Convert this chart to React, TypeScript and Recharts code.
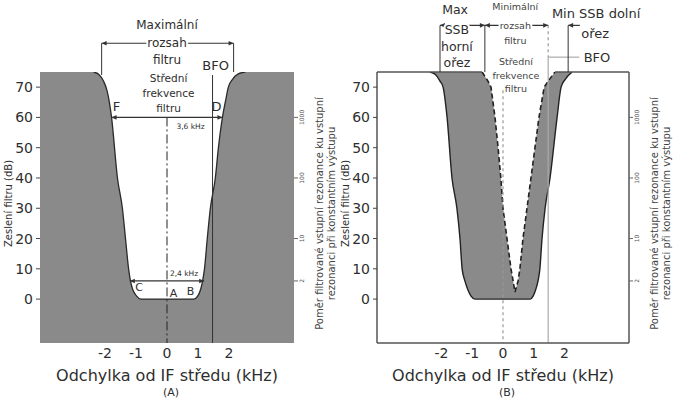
import React from 'react';
import {
  ComposedChart,
  Area,
  XAxis,
  YAxis,
  CartesianGrid,
  ReferenceLine,
  ReferenceDot,
} from 'recharts';

const FONT = '"DejaVu Sans", Verdana, sans-serif';
const INK = '#2e2e2e';
const GRAY = '#8a8a8a';

const X_DOMAIN: [number, number] = [-4.1, 4.1];
const Y_DOMAIN: [number, number] = [-14.5, 75];
const xTicks = [-2, -1, 0, 1, 2];
const yTicks = [0, 6, 10, 20, 30, 40, 50, 60, 70];
const ratioTicks = [0, 6, 20, 40, 60];
const ratioLabels = ['1', '2', '10', '100', '1000'];

const xTitle = 'Odchylka od IF středu (kHz)';
const yTitle = 'Zeslení filtru (dB)';
const ratioTitle = [
  'Poměr filtrované vstupní rezonance ku vstupní',
  'rezonanci při konstantním výstupu',
];

// propustné pásmo filtru (kHz, dB)
const filterA = [
  { x: -2.37, y: 75 }, { x: -2.2, y: 74.2 }, { x: -2.05, y: 72 }, { x: -1.94, y: 69 },
  { x: -1.86, y: 65 }, { x: -1.79, y: 60 }, { x: -1.6, y: 40 }, { x: -1.44, y: 30 },
  { x: -1.34, y: 20 }, { x: -1.24, y: 10 }, { x: -1.18, y: 6 }, { x: -1.1, y: 3 },
  { x: -0.98, y: 1 }, { x: -0.84, y: 0 }, { x: 0.86, y: 0 }, { x: 0.99, y: 1 },
  { x: 1.08, y: 3 }, { x: 1.15, y: 6 }, { x: 1.21, y: 10 }, { x: 1.3, y: 20 },
  { x: 1.4, y: 30 }, { x: 1.56, y: 40 }, { x: 1.66, y: 50 }, { x: 1.79, y: 60 },
  { x: 1.9, y: 66 }, { x: 1.98, y: 70 }, { x: 2.11, y: 72.5 }, { x: 2.3, y: 74.4 },
  { x: 2.53, y: 75 },
];

// (B) vnější křivka a posunutá (čárkovaná) křivka
const outerB = [
  { x: -2.38, y: 75 }, { x: -2.2, y: 74.2 }, { x: -2.05, y: 72 }, { x: -1.95, y: 70 },
  { x: -1.82, y: 60 }, { x: -1.66, y: 40 }, { x: -1.5, y: 30 }, { x: -1.4, y: 20 },
  { x: -1.33, y: 10 }, { x: -1.24, y: 6 }, { x: -1.14, y: 3 }, { x: -1.04, y: 1 },
  { x: -0.91, y: 0 }, { x: 0.88, y: 0 }, { x: 0.98, y: 1 }, { x: 1.06, y: 3 },
  { x: 1.14, y: 6 }, { x: 1.2, y: 10 }, { x: 1.27, y: 20 }, { x: 1.37, y: 30 },
  { x: 1.53, y: 40 }, { x: 1.76, y: 60 }, { x: 1.89, y: 70 }, { x: 2.02, y: 72.5 },
  { x: 2.25, y: 75 },
];
const innerB = [
  { x: -0.68, y: 75 }, { x: -0.49, y: 72 }, { x: -0.39, y: 70 }, { x: -0.26, y: 60 },
  { x: -0.16, y: 50 }, { x: -0.07, y: 40 }, { x: 0, y: 30 }, { x: 0.13, y: 20 },
  { x: 0.26, y: 10 }, { x: 0.33, y: 6 }, { x: 0.39, y: 2.3 }, { x: 0.49, y: 6 },
  { x: 0.55, y: 10 }, { x: 0.65, y: 20 }, { x: 0.78, y: 30 }, { x: 0.91, y: 40 },
  { x: 1.04, y: 50 }, { x: 1.17, y: 60 }, { x: 1.34, y: 70 }, { x: 1.47, y: 72 },
  { x: 1.69, y: 75 },
];

// popisky (kHz, dB)
const titleNotesA = [
  { x: 0, y: 90.4, text: 'Maximální' },
  { x: 0, y: 84.5, text: 'rozsah', halo: true },
  { x: 0, y: 79, text: 'filtru' },
];
const centreNotesA = [
  { x: 0.05, y: 73, text: 'Střední' },
  { x: 0.05, y: 68, text: 'frekvence' },
  { x: 0.05, y: 63, text: 'filtru' },
];
const markNotesA = [
  { x: 1.57, y: 77, text: 'BFO' },
  { x: -1.63, y: 63.5, text: 'F' },
  { x: 1.6, y: 63.5, text: 'D' },
];
const pointNotesA = [
  { x: -0.9, y: 3.8, text: 'C' },
  { x: 0.21, y: 2, text: 'A' },
  { x: 0.76, y: 2.5, text: 'B' },
];
const widthNotesA = [
  { x: 0.76, y: 57, text: '3,6 kHz' },
  { x: 0.55, y: 8.6, text: '2,4 kHz' },
];

const sideNotesB = [
  { x: -1.56, y: 95.5, text: 'Max' },
  { x: -1.5, y: 89, text: 'SSB', halo: true },
  { x: -1.5, y: 83.5, text: 'horní' },
  { x: -1.5, y: 78, text: 'ořez' },
];
const centreNotesB = [
  { x: 0.4, y: 96.5, text: 'Minimální' },
  { x: 0.4, y: 90.4, text: 'rozsah', halo: true },
  { x: 0.4, y: 85.5, text: 'filtru' },
  { x: 0.42, y: 78.5, text: 'Střední' },
  { x: 0.42, y: 74, text: 'frekvence', halo: true },
  { x: 0.42, y: 69.6, text: 'filtru' },
];
const rightNotesB = [
  { x: 3.03, y: 94.2, text: 'Min SSB dolní' },
  { x: 3.0, y: 87.8, text: 'ořez' },
  { x: 3.06, y: 79.9, text: 'BFO' },
];

// šipky a čáry: [x1, y1, x2, y2]
const arrowsA = [
  [-2.11, 84.5, 2.15, 84.5],
  [-1.79, 60, 1.79, 60],
  [-1.2, 6, 1.2, 6],
];
const guidesA = [
  [-2.11, 84.5, -2.11, 74],
  [2.15, 84.5, 2.15, 75],
  [1.47, 74, 1.47, -14.5],
];
const centreA = [0, 60, 0, -14.5];

const arrowsB = [
  [-2.05, 90.4, -0.59, 90.4],
  [-0.59, 90.4, 1.47, 90.4],
];
const leftArrowB = [2.12, 90.4, 2.5, 90.4];
const guidesB = [
  [-2.05, 90.4, -2.05, 75],
  [-0.59, 90.4, -0.59, 75],
  [2.12, 90.4, 2.12, 75],
];
const bfoB = [
  [1.47, 79.9, 1.47, -14.5],
  [1.47, 79.9, 2.48, 79.9],
];
const dottedB = [
  [1.47, 90.4, 1.47, 79.9],
  [0, 69, 0, -14.5],
];

const arrowShape = (startHead: boolean, endHead: boolean, color: string) => (p: any) => {
  const { x1, y1, x2, y2 } = p;
  const a = Math.atan2(y2 - y1, x2 - x1);
  const head = (x: number, y: number, ang: number) => {
    const L = 5;
    const W = 2.3;
    const bx = x - L * Math.cos(ang);
    const by = y - L * Math.sin(ang);
    const px = -Math.sin(ang) * W;
    const py = Math.cos(ang) * W;
    return `${x},${y} ${bx + px},${by + py} ${bx - px},${by - py}`;
  };
  return (
    <g>
      <line x1={x1} y1={y1} x2={x2} y2={y2} stroke={color} strokeWidth={1.2} />
      {startHead && <polygon points={head(x1, y1, a + Math.PI)} fill={color} />}
      {endHead && <polygon points={head(x2, y2, a)} fill={color} />}
    </g>
  );
};

const noteShape = (text: string, size: number, halo?: boolean, color = INK) => (p: any) => (
  <text
    x={p.cx}
    y={p.cy}
    textAnchor="middle"
    dominantBaseline="central"
    fontSize={size}
    fontFamily={FONT}
    fill={color}
    stroke={halo ? '#fff' : 'none'}
    strokeWidth={halo ? 4 : 0}
    paintOrder="stroke"
  >
    {text}
  </text>
);

const renderNotes = (notes: any[], size: number, key: string, color?: string) =>
  notes.map((n, i) => (
    <ReferenceDot
      key={`${key}${i}`}
      x={n.x}
      y={n.y}
      r={0}
      ifOverflow="visible"
      shape={noteShape(n.text, size, n.halo, color)}
    />
  ));

const renderSegments = (segs: number[][], key: string, props: any) =>
  segs.map((s, i) => (
    <ReferenceLine
      key={`${key}${i}`}
      segment={[{ x: s[0], y: s[1] }, { x: s[2], y: s[3] }]}
      ifOverflow="visible"
      {...props}
    />
  ));

const RatioTick = (p: any) => {
  const idx = ratioTicks.indexOf(p.payload.value);
  const x = p.x + 4;
  return (
    <text
      x={x}
      y={p.y}
      transform={`rotate(-90, ${x}, ${p.y})`}
      textAnchor="middle"
      fontSize={6}
      fontFamily={FONT}
      fill="#555"
    >
      {ratioLabels[idx]}
    </text>
  );
};

const Panel = ({ tag, width, rightWidth, boxed, children }: any) => (
  <ComposedChart
    width={width}
    height={401}
    margin={{ top: 72, right: 0, bottom: 0, left: 0 }}
  >
    <CartesianGrid horizontal={false} vertical={false} fill={boxed ? 'none' : GRAY} fillOpacity={1} />
    <XAxis
      dataKey="x"
      type="number"
      domain={X_DOMAIN}
      ticks={xTicks}
      allowDataOverflow
      height={58}
      axisLine={boxed ? { stroke: '#555', strokeWidth: 1.5 } : false}
      tickLine={false}
      tickSize={3}
      tickMargin={2}
      tick={{ fontSize: 14, fill: INK, fontFamily: FONT }}
      label={{
        content: (lp: any) => {
          const vb = lp.viewBox;
          const cx = vb.x + vb.width / 2;
          return (
            <g fontFamily={FONT} fill={INK} textAnchor="middle">
              <text x={cx} y={vb.y + 32} fontSize={16} dominantBaseline="central">{xTitle}</text>
              <text x={cx + 4} y={vb.y + 49} fontSize={11} dominantBaseline="central">{`(${tag})`}</text>
            </g>
          );
        },
      }}
    />
    <YAxis
      domain={Y_DOMAIN}
      ticks={yTicks}
      allowDataOverflow
      width={40}
      axisLine={boxed ? { stroke: '#555', strokeWidth: 1.5 } : false}
      tickLine={{ stroke: '#444' }}
      tickSize={4}
      tickMargin={3}
      tick={{ fontSize: 14, fill: INK, fontFamily: FONT }}
      label={{
        content: (lp: any) => {
          const vb = lp.viewBox;
          const x = vb.x + 8;
          const y = vb.y + vb.height / 2 - 4;
          return (
            <text x={x} y={y} transform={`rotate(-90, ${x}, ${y})`} textAnchor="middle"
              dominantBaseline="central" fontSize={10} fontFamily={FONT} fill={INK}>
              {yTitle}
            </text>
          );
        },
      }}
    />
    <YAxis
      yAxisId="r"
      orientation="right"
      domain={Y_DOMAIN}
      ticks={ratioTicks}
      allowDataOverflow
      width={rightWidth}
      axisLine={boxed ? { stroke: '#555', strokeWidth: 1.5 } : false}
      tickLine={{ stroke: '#666' }}
      tickSize={4}
      tickMargin={2}
      tick={<RatioTick />}
      label={{
        content: (lp: any) => {
          const vb = lp.viewBox;
          const y = vb.y + vb.height / 2 + 6;
          return (
            <g fontFamily={FONT} fill="#444" fontSize={10} textAnchor="middle">
              {ratioTitle.map((t, i) => {
                const x = vb.x + 25 + i * 12;
                return (
                  <text key={i} x={x} y={y} transform={`rotate(-90, ${x}, ${y})`} dominantBaseline="central">
                    {t}
                  </text>
                );
              })}
            </g>
          );
        },
      }}
    />
    {children}
  </ComposedChart>
);

export default function App() {
  return (
    <div style={{ position: 'absolute', left: 0, top: 0, width: 675, height: 401, background: '#fff' }}>
      <div style={{ position: 'absolute', left: 0, top: 0 }}>
        <Panel tag="A" width={337} rightWidth={43} boxed={false}>
          <Area
            data={filterA}
            dataKey="y"
            type="monotone"
            baseValue={75}
            fill="#fff"
            fillOpacity={1}
            stroke="#2a2a2a"
            strokeWidth={1.3}
            isAnimationActive={false}
          />
          {renderSegments([centreA], 'c', { stroke: '#222', strokeWidth: 1, strokeDasharray: '9 3 2 3' })}
          {renderSegments(guidesA, 'g', { stroke: '#333', strokeWidth: 1 })}
          {arrowsA.map((s, i) => (
            <ReferenceLine
              key={`a${i}`}
              segment={[{ x: s[0], y: s[1] }, { x: s[2], y: s[3] }]}
              ifOverflow="visible"
              shape={arrowShape(true, true, '#333')}
            />
          ))}
          {renderNotes(titleNotesA, 12, 't')}
          {renderNotes(centreNotesA, 10.5, 'm')}
          {renderNotes(markNotesA, 13, 'k')}
          {renderNotes(pointNotesA, 11, 'p')}
          {renderNotes(widthNotesA, 7.5, 'w')}
        </Panel>
      </div>
      <div style={{ position: 'absolute', left: 337, top: 0 }}>
        <Panel tag="B" width={338} rightWidth={46} boxed>
          <Area
            data={outerB}
            dataKey="y"
            type="monotone"
            baseValue={75}
            fill={GRAY}
            fillOpacity={1}
            stroke="#222"
            strokeWidth={1.4}
            isAnimationActive={false}
          />
          <Area
            data={innerB}
            dataKey="y"
            type="linear"
            baseValue={75}
            fill="#fff"
            fillOpacity={1}
            stroke="#222"
            strokeWidth={1.6}
            strokeDasharray="5 3"
            isAnimationActive={false}
          />
          {renderSegments(
            [
              [X_DOMAIN[0], 75, innerB[0].x, 75],
              [innerB[innerB.length - 1].x, 75, X_DOMAIN[1], 75],
            ],
            'top',
            { stroke: '#555', strokeWidth: 1.5 }
          )}
          {renderSegments(dottedB, 'd', { stroke: '#999', strokeWidth: 1.2, strokeDasharray: '3 3' })}
          {renderSegments(bfoB, 'b', { stroke: '#aaa', strokeWidth: 1.2 })}
          {renderSegments(guidesB, 'g', { stroke: '#333', strokeWidth: 1 })}
          {arrowsB.map((s, i) => (
            <ReferenceLine
              key={`a${i}`}
              segment={[{ x: s[0], y: s[1] }, { x: s[2], y: s[3] }]}
              ifOverflow="visible"
              shape={arrowShape(true, true, '#333')}
            />
          ))}
          <ReferenceLine
            segment={[{ x: leftArrowB[0], y: leftArrowB[1] }, { x: leftArrowB[2], y: leftArrowB[3] }]}
            ifOverflow="visible"
            shape={arrowShape(true, false, '#333')}
          />
          {renderNotes(sideNotesB, 12.5, 's')}
          {renderNotes(centreNotesB, 9.5, 'c', '#444')}
          {renderNotes(rightNotesB, 13, 'r')}
        </Panel>
      </div>
    </div>
  );
}
